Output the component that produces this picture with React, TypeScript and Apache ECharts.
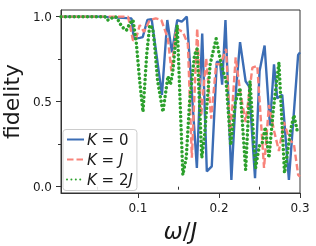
import React, { useEffect, useRef } from "react";
import * as echarts from "echarts";

// omega / J sample positions and fidelity values for each K
const omegaK0 = [0.005, 0.053, 0.092, 0.0948, 0.1022, 0.1059, 0.1116, 0.1169, 0.1296, 0.1362, 0.1419, 0.1485, 0.154, 0.1603, 0.1727, 0.1793, 0.185, 0.1911, 0.1973, 0.2014, 0.2039, 0.208, 0.2153, 0.2212, 0.226, 0.2329, 0.2371, 0.2445, 0.2501, 0.2563, 0.2629, 0.2679, 0.2719, 0.2781, 0.2863, 0.2977, 0.3];
const fidK0 = [1.0, 1.0, 0.99, 0.87, 0.875, 0.88, 0.98, 0.985, 0.54, 0.98, 0.79, 0.98, 0.97, 1.0, 0.11, 0.9, 0.09, 0.12, 0.735, 0.73, 0.6, 0.98, 0.04, 0.58, 0.85, 0.62, 0.59, 0.05, 0.68, 0.83, 0.36, 0.72, 0.52, 0.54, 0.04, 0.775, 0.79];

const omegaKJ = [0.005, 0.0878, 0.0939, 0.0972, 0.1022, 0.1074, 0.1145, 0.1219, 0.1289, 0.137, 0.1412, 0.1473, 0.1554, 0.1616, 0.1665, 0.1731, 0.1781, 0.1842, 0.1904, 0.1965, 0.2018, 0.2088, 0.2141, 0.2206, 0.2264, 0.2329, 0.2412, 0.2473, 0.2556, 0.2617, 0.2679, 0.274, 0.2802, 0.2867, 0.2925, 0.2977, 0.3];
const fidKJ = [1.0, 1.0, 0.86, 0.865, 0.95, 0.91, 0.98, 0.99, 0.98, 0.87, 0.68, 0.93, 0.91, 0.84, 0.17, 0.93, 0.42, 0.755, 0.4, 0.72, 0.72, 0.81, 0.3, 0.76, 0.55, 0.38, 0.7, 0.71, 0.11, 0.48, 0.33, 0.21, 0.38, 0.28, 0.25, 0.07, 0.06];

const omegaK2J = [0.005, 0.0591, 0.0628, 0.0714, 0.0739, 0.0776, 0.0825, 0.0858, 0.0899, 0.0939, 0.0979, 0.1022, 0.1062, 0.1108, 0.1145, 0.1182, 0.1206, 0.1243, 0.1308, 0.137, 0.14, 0.1428, 0.1485, 0.1554, 0.1596, 0.1637, 0.1698, 0.1731, 0.1788, 0.1821, 0.1891, 0.1965, 0.2027, 0.2088, 0.2145, 0.2203, 0.226, 0.2329, 0.2383, 0.2452, 0.2498, 0.2535, 0.2572, 0.2617, 0.267, 0.274, 0.2809, 0.2883, 0.2925, 0.2965, 0.3];
const fidK2J = [1.0, 1.0, 0.98, 1.0, 0.995, 0.96, 0.93, 0.92, 0.96, 0.98, 0.85, 0.62, 0.44, 0.78, 0.95, 0.93, 0.83, 0.62, 0.44, 0.65, 0.6, 0.67, 0.95, 0.07, 0.17, 0.5, 0.775, 0.81, 0.17, 0.3, 0.72, 0.87, 0.72, 0.62, 0.245, 0.5, 0.58, 0.1, 0.62, 0.11, 0.24, 0.26, 0.35, 0.17, 0.45, 0.73, 0.08, 0.33, 0.42, 0.33, 0.33];

const seriesNames = ["K = 0", "K = J", "K = 2J"];
const xTickValues = [0.1, 0.2, 0.3];
const xMinorTickValues = [0.05, 0.15, 0.25];
const yTickValues = [0.0, 0.5, 1.0];
const yMinorTickValues = [0.25, 0.75];

const FONT = "DejaVu Sans";
const AXIS_COLOR = "#333";
const TEXT_COLOR = "#1a1a1a";

const zip = (xs: number[], ys: number[]) => xs.map((x, i) => [x, ys[i]]);

export default function App() {
  const ref = useRef<HTMLDivElement>(null);
  useEffect(() => {
    const chart = echarts.init(ref.current!, undefined, { renderer: "svg" });
    const xMin = 0.005;
    const xMax = 0.3;
    const yMin = -0.037;
    const yMax = 1.039;
    const labelStyle = { fontSize: 12, color: TEXT_COLOR, fontFamily: FONT };
    chart.setOption({
      animation: false,
      grid: {
        left: 61,
        right: 16,
        top: 10,
        bottom: 53,
        show: true,
        borderColor: AXIS_COLOR,
        borderWidth: 1,
        containLabel: false,
        outerBoundsMode: "none",
      },
      legend: {
        left: 63,
        top: 129.5,
        orient: "vertical",
        itemWidth: 17,
        itemHeight: 14,
        itemGap: 4,
        padding: [2, 4, 3, 3],
        borderColor: "#cccccc",
        borderWidth: 1,
        borderRadius: 3,
        backgroundColor: "rgba(255,255,255,0.85)",
        data: seriesNames,
        itemStyle: { color: "rgba(0,0,0,0)", borderWidth: 0, opacity: 0 },
        formatter: (name: string) =>
          name.replace("K", "{i|K}").replace("J", "{i|J}"),
        textStyle: {
          fontSize: 15,
          lineHeight: 16,
          fontFamily: FONT,
          color: TEXT_COLOR,
          padding: [0, 0, 0, -2],
          rich: {
            i: { fontStyle: "italic", fontSize: 15, fontFamily: FONT, color: TEXT_COLOR, lineHeight: 16 },
          },
        },
      },
      xAxis: [
        {
          type: "value",
          min: xMin,
          max: xMax,
          position: "bottom",
          axisLine: { show: true, onZero: false, lineStyle: { color: AXIS_COLOR, width: 1 } },
          axisTick: { show: true, customValues: xTickValues, length: 5, lineStyle: { color: AXIS_COLOR } },
          axisLabel: {
            show: true,
            customValues: xTickValues,
            formatter: (v: number) => v.toFixed(1),
            margin: 9,
            ...labelStyle,
          },
          splitLine: { show: false },
          name: "{i|ω}/{i|J}",
          nameLocation: "middle",
          nameGap: 25,
          nameTextStyle: {
            fontSize: 23,
            fontFamily: FONT,
            color: TEXT_COLOR,
            lineHeight: 24,
            rich: { i: { fontStyle: "italic", fontSize: 23, fontFamily: FONT, color: TEXT_COLOR, lineHeight: 24 } },
          },
        },
        {
          type: "value",
          min: xMin,
          max: xMax,
          position: "bottom",
          axisLine: { show: false },
          axisTick: { show: true, customValues: xMinorTickValues, length: 3, lineStyle: { color: AXIS_COLOR } },
          axisLabel: { show: false },
          splitLine: { show: false },
        },
      ],
      yAxis: [
        {
          type: "value",
          min: yMin,
          max: yMax,
          position: "left",
          axisLine: { show: true, onZero: false, lineStyle: { color: AXIS_COLOR, width: 1 } },
          axisTick: { show: true, customValues: yTickValues, length: 5, lineStyle: { color: AXIS_COLOR } },
          axisLabel: {
            show: true,
            customValues: yTickValues,
            formatter: (v: number) => v.toFixed(1),
            margin: 9,
            ...labelStyle,
          },
          splitLine: { show: false },
          name: "fidelity",
          nameLocation: "middle",
          nameGap: 33,
          nameTextStyle: { fontSize: 22, fontFamily: FONT, color: TEXT_COLOR },
        },
        {
          type: "value",
          min: yMin,
          max: yMax,
          position: "left",
          axisLine: { show: false },
          axisTick: { show: true, customValues: yMinorTickValues, length: 3, lineStyle: { color: AXIS_COLOR } },
          axisLabel: { show: false },
          splitLine: { show: false },
        },
      ],
      series: [
        {
          name: seriesNames[0],
          type: "line",
          data: zip(omegaK0, fidK0),
          symbol: "none",
          showSymbol: false,
          color: "#3b6db5",
          lineStyle: { color: "#3b6db5", width: 2.4 },
          z: 2,
        },
        {
          name: seriesNames[1],
          type: "line",
          data: zip(omegaKJ, fidKJ),
          symbol: "none",
          showSymbol: false,
          color: "#f8837a",
          lineStyle: { color: "#f8837a", width: 2.4, type: [6.5, 3] },
          z: 3,
        },
        {
          name: seriesNames[2],
          type: "line",
          data: zip(omegaK2J, fidK2J),
          symbol: "none",
          showSymbol: false,
          color: "#2ca02c",
          lineStyle: { color: "#2ca02c", width: 3.5, type: [0.01, 4.4], cap: "round" },
          z: 4,
        },
      ],
    });
    return () => chart.dispose();
  }, []);
  return (
    <div
      ref={ref}
      style={{ width: 316, height: 246, position: "fixed", left: 0, top: 0 }}
    />
  );
}
